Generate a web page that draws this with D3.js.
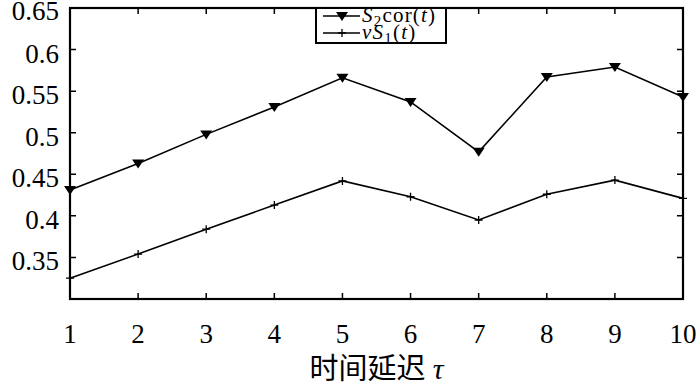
<!DOCTYPE html>
<html>
<head>
<meta charset="utf-8">
<script src="https://cdn.jsdelivr.net/npm/d3@7"></script>
<style>
body { margin: 0; background: #fff; }
text { font-family: "Liberation Serif", "DejaVu Serif", serif; }
</style>
</head>
<body>
<div id="chart"></div>
<script>
// data
var tau = [1, 2, 3, 4, 5, 6, 7, 8, 9, 10];
var s2cor = [0.431, 0.463, 0.498, 0.531, 0.566, 0.537, 0.477, 0.567, 0.579, 0.543];
var vs1 = [0.325, 0.354, 0.384, 0.413, 0.442, 0.423, 0.395, 0.426, 0.443, 0.421];
var yTicks = [0.35, 0.4, 0.45, 0.5, 0.55, 0.6, 0.65];
var yLabels = ["0.35", "0.4", "0.45", "0.5", "0.55", "0.6", "0.65"];

var svgWidth = 700, svgHeight = 386;
var margin = { top: 8, right: 17, bottom: 87, left: 70 };
var width = svgWidth - margin.left - margin.right;
var height = svgHeight - margin.top - margin.bottom;

var svg = d3.select("#chart").append("svg")
    .attr("width", svgWidth)
    .attr("height", svgHeight);

var g = svg.append("g")
    .attr("transform", "translate(" + margin.left + "," + margin.top + ")");

var x = d3.scaleLinear().domain([1, 10]).range([0, width]);
var y = d3.scaleLinear().domain([0.3, 0.65]).range([height, 0]);

// ticks inside, all four sides
var tickLen = 6;
g.selectAll(".xt").data(tau.slice(1, -1)).enter().append("path")
    .attr("stroke", "black").attr("stroke-width", 1.5)
    .attr("d", d => `M ${x(d)},${height} v ${-tickLen} M ${x(d)},0 v ${tickLen}`);
g.selectAll(".yt").data(yTicks.slice(0, -1)).enter().append("path")
    .attr("stroke", "black").attr("stroke-width", 1.5)
    .attr("d", d => `M 0,${y(d)} h ${tickLen} M ${width},${y(d)} h ${-tickLen}`);

// tick labels
g.selectAll(".xl").data(tau).enter().append("text")
    .attr("x", d => x(d))
    .attr("y", height + 44)
    .attr("text-anchor", "middle")
    .attr("font-size", 27)
    .text(d => d);
g.selectAll(".yl").data(yTicks).enter().append("text")
    .attr("x", -11)
    .attr("y", (d, i) => y(d) + (i == yTicks.length - 1 ? 12 : 13))
    .attr("text-anchor", "end")
    .attr("font-size", 27)
    .text((d, i) => yLabels[i]);

// axis label
var lab = g.append("text")
    .attr("x", width / 2)
    .attr("y", height + 80)
    .attr("text-anchor", "middle")
    .attr("font-size", 29);
lab.append("tspan").attr("font-family", "Noto Sans CJK SC").text("时间延迟");
lab.append("tspan").attr("font-style", "italic").attr("font-size", 30).attr("dx", 7).text("τ");

// lines
var line = d3.line()
    .x((d, i) => x(tau[i]))
    .y(d => y(d));

g.append("path").datum(s2cor)
    .attr("fill", "none").attr("stroke", "black").attr("stroke-width", 1.6)
    .attr("d", line);
g.append("path").datum(vs1)
    .attr("fill", "none").attr("stroke", "black").attr("stroke-width", 1.6)
    .attr("d", line);

function tri(cx, cy) {
    return `M ${cx - 6},${cy - 4} L ${cx + 6},${cy - 4} L ${cx},${cy + 5} Z`;
}
function plus(cx, cy) {
    return `M ${cx - 4},${cy} h 8 M ${cx},${cy - 4} v 8`;
}

g.selectAll(".tri").data(s2cor).enter().append("path")
    .attr("fill", "black")
    .attr("d", (d, i) => tri(x(tau[i]), y(d)));
g.selectAll(".plus").data(vs1).enter().append("path")
    .attr("stroke", "black").attr("stroke-width", 1.3)
    .attr("d", (d, i) => plus(x(tau[i]), y(d)));

// frame
g.append("rect")
    .attr("width", width).attr("height", height)
    .attr("fill", "none").attr("stroke", "black").attr("stroke-width", 2.2);

// legend
var lg = svg.append("g").attr("transform", "translate(316,8)");
lg.append("rect").attr("width", 130).attr("height", 35)
    .attr("fill", "white").attr("stroke", "black").attr("stroke-width", 2);
lg.append("path").attr("stroke", "black").attr("stroke-width", 1.6)
    .attr("d", "M 7,8 h 37 M 7,25 h 37");
lg.append("path").attr("fill", "black").attr("d", tri(26, 8));
lg.append("path").attr("stroke", "black").attr("stroke-width", 1.3).attr("d", plus(26, 25));

var t1 = lg.append("text").attr("x", 46).attr("y", 14).attr("font-size", 21).attr("letter-spacing", 1.2);
t1.append("tspan").attr("font-style", "italic").text("S");
t1.append("tspan").attr("font-size", 15).attr("dy", 4).text("2");
t1.append("tspan").attr("dy", -4).text("cor(");
t1.append("tspan").attr("font-style", "italic").text("t");
t1.append("tspan").text(")");

var t2 = lg.append("text").attr("x", 46).attr("y", 31).attr("font-size", 21).attr("letter-spacing", 1.2);
t2.append("tspan").attr("font-style", "italic").text("vS");
t2.append("tspan").attr("font-size", 15).attr("dy", 4).text("1");
t2.append("tspan").attr("dy", -4).text("(");
t2.append("tspan").attr("font-style", "italic").text("t");
t2.append("tspan").text(")");
</script>
</body>
</html>
